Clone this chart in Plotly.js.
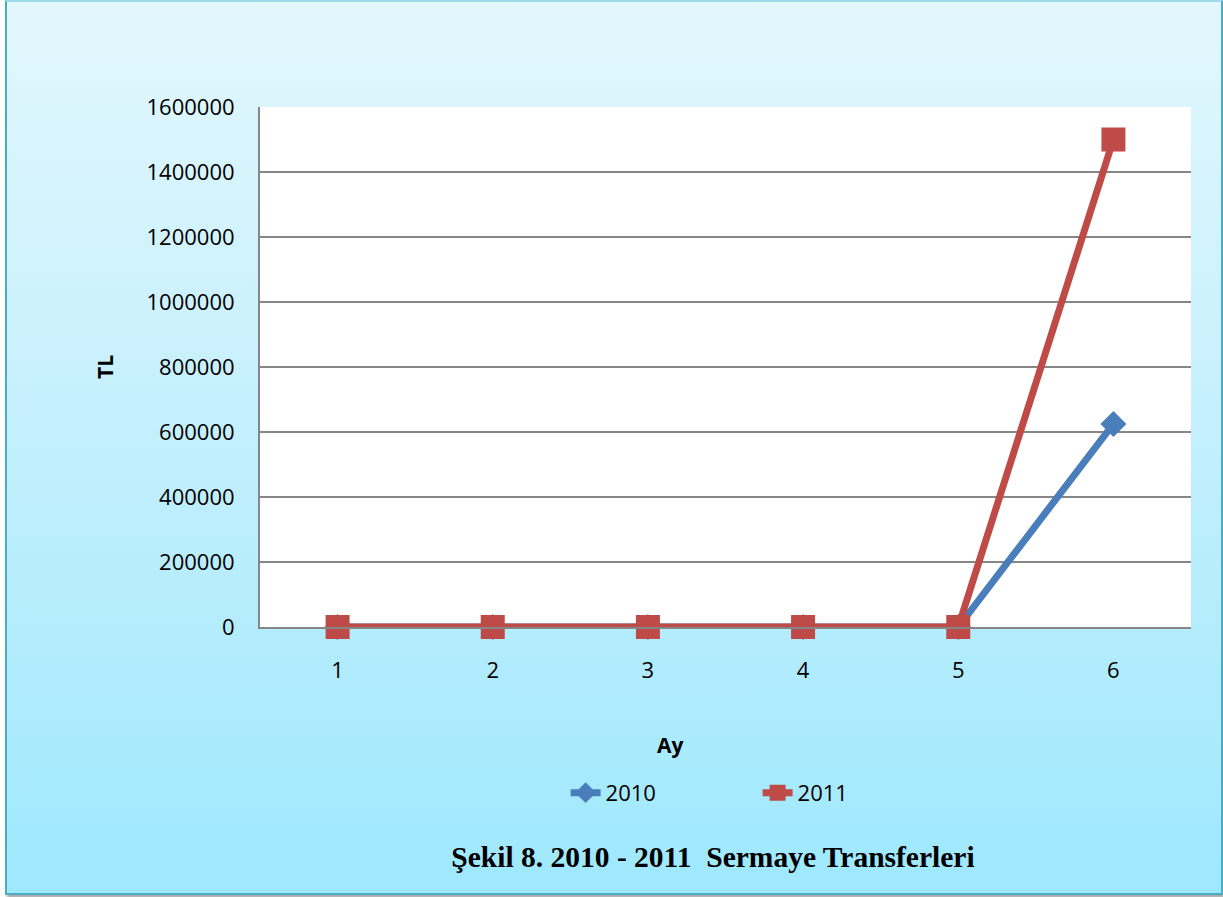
<!DOCTYPE html>
<html>
<head>
<meta charset="utf-8">
<script src="https://cdn.plot.ly/plotly-3.0.1.min.js"></script>
<style>
  html, body { margin: 0; padding: 0; width: 1223px; height: 897px; overflow: hidden; background: #ffffff; }
  #frame {
    position: absolute; left: 5px; top: 0px; width: 1214px; height: 891px;
    border: 2px solid #4bacc6; border-top-color: #9fdcec;
    background: linear-gradient(to bottom, #e3f7fd 0%, #c6f0fd 45%, #9ee8fd 100%);
    box-shadow: 2px 3px 3px rgba(0,0,0,0.35);
  }
  #chart { position: absolute; left: 0; top: 0; width: 1223px; height: 897px; }
</style>
</head>
<body>
<div id="frame"></div>
<div id="chart"></div>
<script>
const months = [1, 2, 3, 4, 5, 6];
const monthLabels = ["1", "2", "3", "4", "5", "6"];
const series2010 = [0, 0, 0, 0, 0, 625000];
const series2011 = [0, 0, 0, 0, 0, 1500000];
const yTicks = [0, 200000, 400000, 600000, 800000, 1000000, 1200000, 1400000, 1600000];

const traces = [
  {
    x: months, y: series2010, name: "2010", type: "scatter", mode: "lines+markers",
    cliponaxis: false,
    line: { color: "#4a7ebb", width: 7 },
    marker: { symbol: "diamond", size: 20, color: "#4a7ebb" }
  },
  {
    x: months, y: series2011, name: "2011", type: "scatter", mode: "lines+markers",
    cliponaxis: false,
    line: { color: "#be4b48", width: 7 },
    marker: { symbol: "square", size: 24, color: "#be4b48" }
  }
];

const baseFont = { family: "Open Sans, sans-serif", size: 22, color: "#000000" };
const boldFont = { family: "Open Sans, sans-serif", size: 21, color: "#000000" };

const layout = {
  width: 1223, height: 897,
  paper_bgcolor: "rgba(0,0,0,0)",
  plot_bgcolor: "#ffffff",
  margin: { l: 260, r: 32, t: 107, b: 270 },
  font: baseFont,
  showlegend: true,
  legend: {
    orientation: "h", x: 0.5345, xanchor: "center", y: -0.319, yanchor: "middle",
    font: baseFont, bgcolor: "rgba(0,0,0,0)", traceorder: "normal",
    entrywidth: 147, entrywidthmode: "pixels"
  },
  title: {
    text: "<b>Şekil 8. 2010 - 2011  Sermaye Transferleri</b>",
    font: { family: "Liberation Serif, Times New Roman, serif", size: 29.5, color: "#000000" },
    x: 0.583, xanchor: "center", y: 0.0446, yanchor: "middle", xref: "container", yref: "container"
  },
  xaxis: {
    range: [0.5, 6.5], tickmode: "array", tickvals: months, ticktext: monthLabels,
    showgrid: false, zeroline: false, showline: true, linecolor: "#868686", linewidth: 2,
    ticks: "", tickfont: baseFont, ticklabelstandoff: 23
  },
  yaxis: {
    range: [0, 1600000], tickmode: "array", tickvals: yTicks, tickformat: "d",
    showgrid: true, gridcolor: "#868686", gridwidth: 2, zeroline: false,
    showline: true, linecolor: "#868686", linewidth: 2,
    ticks: "", tickfont: baseFont, ticklabelstandoff: 19,
    title: { text: "<b>TL</b>", font: boldFont, standoff: 27 }
  },
  annotations: [
    {
      text: "<b>Ay</b>", font: boldFont, showarrow: false,
      xref: "paper", yref: "paper", x: (670 - 260) / 931, y: (627 - 745) / 520,
      xanchor: "center", yanchor: "middle"
    }
  ]
};

Plotly.newPlot("chart", traces, layout, { displayModeBar: false, staticPlot: true });
</script>
</body>
</html>
